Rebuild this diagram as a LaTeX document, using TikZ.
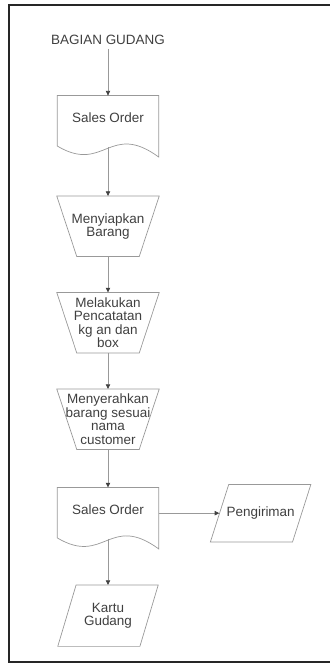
\documentclass[tikz,border=0pt]{standalone}
\usepackage{fontspec}
\setmainfont{Liberation Sans}
\usepackage{xcolor}
\usetikzlibrary{arrows.meta, positioning}

\begin{document}
\begin{tikzpicture}[
	every node/.style={font=\fontsize{11.5}{11.5}\selectfont, align=center, text=black!75},
	docbox/.style={rectangle, minimum width=3.03cm, text height=0.81cm, text depth=0.72cm, inner sep=0pt},
	procbox/.style={rectangle, minimum width=3.06cm, minimum height=1.8cm, inner sep=0pt},
	iobox/.style={rectangle, minimum width=3cm, minimum height=1.71cm, inner sep=0pt},
	shapeline/.style={draw=black!40, line width=0.6pt},
	line/.style={-{Triangle[length=1.4mm, width=1.3mm, color=black!75, fill=black!75]}, draw=black!40, line width=0.6pt}
	]
	
	\useasboundingbox (-3.24,1.2) rectangle (6.63,-18.72);
	\draw[black!85, line width=1.4pt] (6.8,1.05) -- (-2.97,1.05) -- (-2.97,-18.66) -- (6.8,-18.66);
	
	\node (title) {BAGIAN GUDANG};
	\node[docbox, below=1.4cm of title] (so1) {Sales Order};
	\node[procbox, below=1.47cm of so1] (siap) {Menyiapkan\\Barang};
	\node[procbox, below=1.08cm of siap] (catat) {Melakukan\\Pencatatan\\kg an dan\\box};
	\node[procbox, below=1.08cm of catat] (serah) {Menyerahkan\\barang sesuai\\nama\\customer};
	\node[docbox, below=1.14cm of serah] (so2) {Sales Order};
	\node[iobox, minimum height=1.83cm, below=1.38cm of so2] (kartu) {Kartu\\Gudang};
	\node[iobox, right=1.55cm of so2] (kirim) {Pengiriman};
	
	% outlines
	\foreach \n in {so1, so2}
		\draw[shapeline] ([yshift=0.03cm]\n.south west) -- (\n.north west) -- (\n.north east) -- ([yshift=-0.3cm]\n.south east)
			.. controls ([shift={(-1.48,0.78)}]\n.south east) and ([shift={(-1.63,-0.81)}]\n.south east) .. cycle;
	\foreach \n in {siap, catat, serah}
		\draw[shapeline] (\n.north west) -- (\n.north east) -- ([xshift=-0.6cm]\n.south east) -- ([xshift=0.6cm]\n.south west) -- cycle;
	\foreach \n in {kartu, kirim}
		\draw[shapeline] ([xshift=0.55cm]\n.north west) -- (\n.north east) -- ([xshift=-0.55cm]\n.south east) -- (\n.south west) -- cycle;
	
	\draw[line] (title) -- (so1);
	\draw[line] (so1) -- (siap);
	\draw[line] (siap) -- (catat);
	\draw[line] (catat) -- (serah);
	\draw[line] (serah) -- (so2);
	\draw[line] (so2) -- (kartu);
	\draw[line] (so2.east) -- ([xshift=0.27cm]kirim.west);
\end{tikzpicture}
\end{document}
